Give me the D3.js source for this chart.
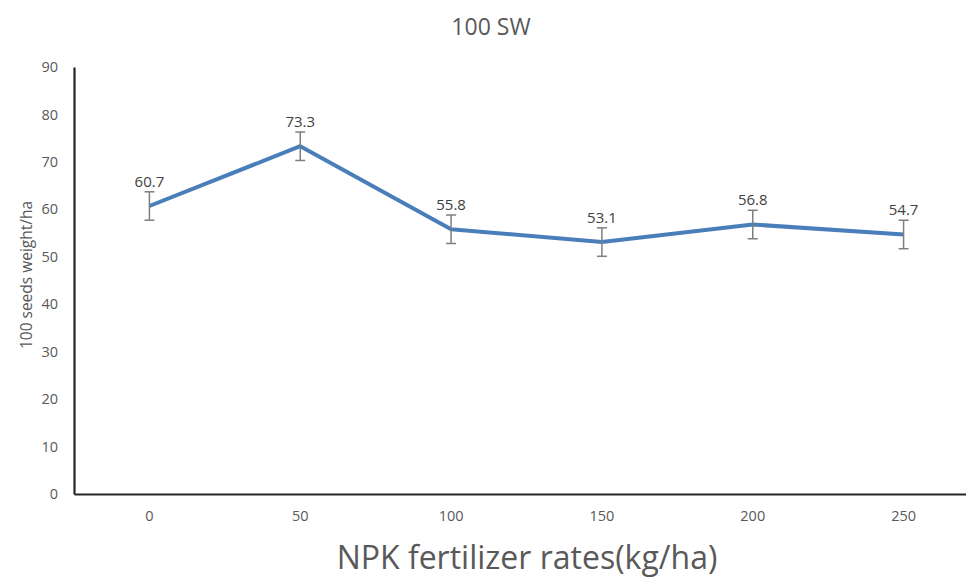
<!DOCTYPE html>
<html><head><meta charset="utf-8">
<script src="https://cdn.jsdelivr.net/npm/d3@7"></script>
<style>body{margin:0;background:#fff;} svg{display:block;font-family:"Open Sans",sans-serif;}</style>
</head><body>
<svg id="chart" width="966" height="577"></svg>
<script>
const categories = ["0","50","100","150","200","250"];
const values = [60.7, 73.3, 55.8, 53.1, 56.8, 54.7];
const errors = [3, 3, 3, 3, 3, 3];
const yTicks = [0,10,20,30,40,50,60,70,80,90];

(function(){
const svg = d3.select("#chart");
const mLeft = 74, mRight = 979, mTop = 67, mBottom = 494;
const x = d3.scaleBand().domain(categories).range([mLeft, mRight]);
const y = d3.scaleLinear().domain([0, 90]).range([mBottom, mTop]);
const cx = c => x(c) + x.bandwidth()/2;

svg.append("text").attr("x", 491).attr("y", 35).attr("text-anchor","middle")
  .attr("font-size", 23).attr("fill","#595959").text("100 SW");

const yAxis = svg.append("g").attr("transform", `translate(${mLeft},0)`)
  .call(d3.axisLeft(y).tickValues(yTicks).tickSize(0).tickPadding(16));
yAxis.select(".domain").attr("stroke","#262626").attr("stroke-width",2.2);
yAxis.selectAll("text").attr("font-size",14.5).attr("fill","#595959").attr("font-family","Open Sans");

const xAxis = svg.append("g").attr("transform", `translate(0,${mBottom})`)
  .call(d3.axisBottom(x).tickSize(0).tickPadding(17));
xAxis.select(".domain").attr("stroke","#262626").attr("stroke-width",2.2);
xAxis.selectAll("text").attr("font-size",14.5).attr("fill","#595959").attr("font-family","Open Sans");

svg.append("text").attr("transform","translate(32,275) rotate(-90)").attr("text-anchor","middle")
  .attr("font-size",15.5).attr("fill","#595959").text("100 seeds weight/ha");
svg.append("text").attr("x",527).attr("y",569).attr("text-anchor","middle")
  .attr("font-size",32).attr("fill","#595959").text("NPK fertilizer rates(kg/ha)");

const line = d3.line().x((d,i)=>cx(categories[i])).y(d=>y(d));
svg.append("path").datum(values).attr("d", line).attr("fill","none")
  .attr("stroke","#4a7ebb").attr("stroke-width",4).attr("stroke-linejoin","round");

const eb = svg.append("g").attr("stroke","#7f7f7f").attr("stroke-width",1.5);
values.forEach((v,i)=>{
  const px = cx(categories[i]);
  eb.append("line").attr("x1",px).attr("x2",px).attr("y1",y(v+errors[i])).attr("y2",y(v-errors[i]));
  eb.append("line").attr("x1",px-5).attr("x2",px+5).attr("y1",y(v+errors[i])).attr("y2",y(v+errors[i]));
  eb.append("line").attr("x1",px-5).attr("x2",px+5).attr("y1",y(v-errors[i])).attr("y2",y(v-errors[i]));
  svg.append("text").attr("x",px).attr("y",y(v+errors[i])-5).attr("text-anchor","middle")
    .attr("font-size",15).attr("fill","#404040").text(v.toFixed(1));
});
})();
</script>
</body></html>
